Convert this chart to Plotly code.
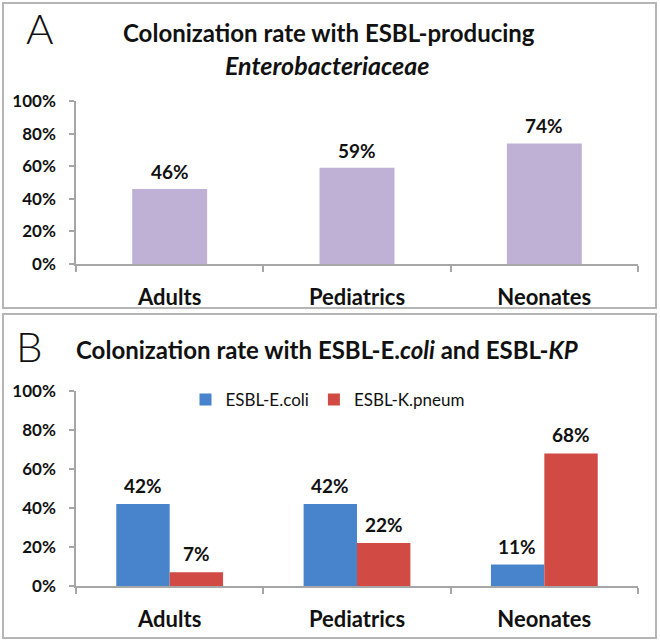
import plotly.graph_objects as go

# ---- data ----
categories = ["Adults", "Pediatrics", "Neonates"]
colonization = [46, 59, 74]          # panel A, %
ecoli = [42, 42, 11]                 # panel B, ESBL-E.coli %
kpneum = [7, 22, 68]                 # panel B, ESBL-K.pneum %
series_names = ["ESBL-E.coli", "ESBL-K.pneum"]
y_ticks = [0, 20, 40, 60, 80, 100]
y_tick_labels = ["0%", "20%", "40%", "60%", "80%", "100%"]

W, H = 660, 641
FONT = "Lato"
TXT = "#111111"
AX = "#A6A6A6"


def px(x):
    return x / W


def py(y):
    return 1 - y / H


fig = go.Figure()

fig.add_trace(go.Bar(
    x=categories, y=colonization, width=0.4,
    marker=dict(color="#BFB0D6", line=dict(width=0)),
    xaxis="x", yaxis="y", showlegend=False, hoverinfo="skip"))

fig.add_trace(go.Bar(
    x=categories, y=ecoli, name=series_names[0],
    marker=dict(color="#4784CB", line=dict(width=0)),
    xaxis="x2", yaxis="y2"))
fig.add_trace(go.Bar(
    x=categories, y=kpneum, name=series_names[1],
    marker=dict(color="#D14B44", line=dict(width=0)),
    xaxis="x2", yaxis="y2"))

xcommon = dict(
    type="category", tickson="boundaries", ticks="outside", ticklen=6,
    tickcolor=AX, tickwidth=1.5, showline=True, linecolor=AX, linewidth=1.5,
    showgrid=False, zeroline=False, ticklabelstandoff=13, automargin=False,
    tickfont=dict(family=FONT, size=22, color=TXT, weight="bold"),
    domain=[px(76), px(638)], fixedrange=True,
)
ycommon = dict(
    range=[0, 100], tickvals=y_ticks, ticktext=y_tick_labels, ticks="outside",
    ticklen=5, tickcolor=AX, tickwidth=1.5, showline=True, linecolor=AX,
    linewidth=1.5, showgrid=False, zeroline=False, ticklabelstandoff=10,
    automargin=False,
    tickfont=dict(family=FONT, size=17, color=TXT, weight="bold"),
    fixedrange=True,
)

fig.update_layout(
    width=W, height=H,
    margin=dict(l=0, r=0, t=0, b=0, autoexpand=False),
    paper_bgcolor="white", plot_bgcolor="white",
    barmode="group", bargap=0.43, bargroupgap=0,
    xaxis=dict(**xcommon, anchor="y"),
    yaxis=dict(**ycommon, anchor="x", domain=[py(264), py(101)]),
    xaxis2=dict(**xcommon, anchor="y2"),
    yaxis2=dict(**ycommon, anchor="x2", domain=[py(586), py(391)]),
    legend=dict(orientation="h", x=px(328), y=py(400), xanchor="center",
                yanchor="middle", font=dict(family=FONT, size=17, color=TXT),
                bgcolor="rgba(0,0,0,0)", itemwidth=30, tracegroupgap=0),
    showlegend=True,
)

shapes = [
    dict(type="rect", xref="paper", yref="paper",
         x0=px(3), x1=px(656), y0=py(308), y1=py(3),
         line=dict(color="#B5B5B5", width=2)),
    dict(type="rect", xref="paper", yref="paper",
         x0=px(3), x1=px(656), y0=py(638), y1=py(314),
         line=dict(color="#B5B5B5", width=2)),
]


def paper_text(text, x, y, size, weight=None):
    f = dict(family=FONT, size=size, color=TXT)
    if weight is not None:
        f["weight"] = weight
    return dict(text=text, x=px(x), y=py(y), xref="paper", yref="paper",
                xanchor="center", yanchor="middle", showarrow=False, font=f)


annotations = [
    paper_text("A", 40, 28, 42, 300),
    paper_text("B", 29, 346, 42, 300),
    paper_text("<b>Colonization rate with ESBL-producing</b>", 329, 32, 24),
    paper_text("<b><i>Enterobacteriaceae</i></b>", 327, 65, 25),
    paper_text("<b>Colonization rate with ESBL-E.<i>coli</i> and ESBL-<i>KP</i></b>",
               327, 349, 24),
]

lab_font = dict(family=FONT, size=19, color=TXT, weight="bold")
for c, v in zip(categories, colonization):
    annotations.append(dict(text=f"{v}%", x=c, y=v, xref="x", yref="y",
                            yanchor="bottom", yshift=4, showarrow=False,
                            font=lab_font))
for vals, shift in ((ecoli, -27), (kpneum, 27)):
    for c, v in zip(categories, vals):
        annotations.append(dict(text=f"{v}%", x=c, y=v, xref="x2", yref="y2",
                                yanchor="bottom", yshift=5, xshift=shift,
                                showarrow=False, font=lab_font))

fig.update_layout(shapes=shapes, annotations=annotations)

fig.write_html("out.html",
               config={"displayModeBar": False},
               post_script="document.body.style.margin='0px';"
                           "document.body.style.overflow='hidden';")
